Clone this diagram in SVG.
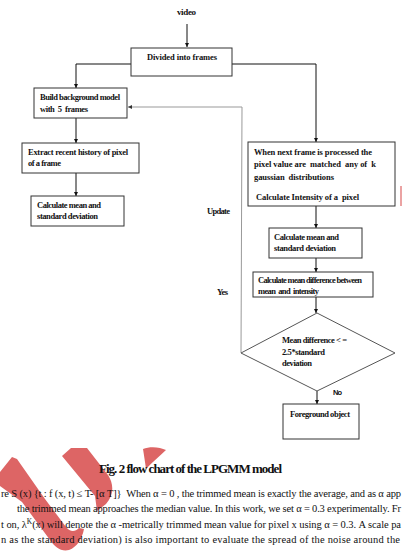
<svg xmlns="http://www.w3.org/2000/svg" width="402" height="557" viewBox="0 0 402 557">
<defs>
<marker id="ah" viewBox="0 0 8 8" refX="8" refY="4" markerWidth="4" markerHeight="4" orient="auto" markerUnits="userSpaceOnUse">
<path d="M0,0 L8,4 L0,8 Z" fill="#111"/>
</marker>
<marker id="ahg" viewBox="0 0 8 8" refX="8" refY="4" markerWidth="4" markerHeight="4" orient="auto" markerUnits="userSpaceOnUse">
<path d="M0,0 L8,4 L0,8 Z" fill="#333"/>
</marker>
<style>
.box{fill:#fff;stroke:#333;stroke-width:1}
.t{font-family:"Liberation Serif","Times New Roman",serif;font-weight:bold;font-size:8.5px;fill:#111}
.c{fill:none;stroke:#111;stroke-width:1}
.g{fill:none;stroke:#999;stroke-width:1}
.p{font-family:"Liberation Serif","Times New Roman",serif;font-size:10.5px;fill:#111}
.wm{fill:#dd6565}
</style>
</defs>
<rect width="402" height="557" fill="#fff"/>

<g id="watermark">
<path class="wm" d="M0,472 L12,457 L17,459 L45,499 L66,527 C70,532 75,532 79,528 L84,529 C82,539 77,547 69,550 C61,552 55,547 50,540 L22,502 L0,486 Z"/>
<path class="wm" d="M71,448 L87,448 L108,475 C114,484 114,495 106,504 L97,511 L95,496 L62,456 Z"/>
<path class="wm" d="M143,449 C150,446 160,447 166,450 C160,456 152,462 146,469 C145,462 144,455 143,449 Z"/>
<path class="wm" opacity="0.6" d="M400,186 L402,186 L402,206 L400,206 Z"/>
</g>

<g id="connectors">
<line class="c" x1="187" y1="24" x2="187" y2="47" marker-end="url(#ah)"/>
<polyline class="c" points="131,64 76,64 76,88" marker-end="url(#ah)"/>
<polyline class="c" points="232,64 316,64 316,142" marker-end="url(#ah)"/>
<line class="c" x1="76" y1="118" x2="76" y2="143" marker-end="url(#ah)"/>
<line class="c" x1="76" y1="173" x2="76" y2="196" marker-end="url(#ah)"/>
<line class="c" x1="316" y1="206" x2="316" y2="228" marker-end="url(#ah)"/>
<line class="c" x1="316" y1="258" x2="316" y2="272" marker-end="url(#ah)"/>
<line class="c" x1="316" y1="297" x2="316" y2="313" marker-end="url(#ah)"/>
<line class="c" x1="317" y1="391" x2="317" y2="404" marker-end="url(#ah)"/>
<polyline class="g" points="241,353 242,107 128,107" marker-end="url(#ahg)"/>
<text class="t" x="207" y="214" textLength="23">Update</text>
<text class="t" x="217" y="295" textLength="11">Yes</text>
<text x="333" y="395" textLength="9" style="font-family:'Liberation Sans',Arial,sans-serif;font-weight:bold;font-size:7.5px;fill:#111">No</text>
</g>

<g id="video">
<text class="t" x="177" y="15" textLength="19" style="font-size:9px">video</text>
</g>

<g id="divided">
<rect class="box" x="131" y="48" width="101" height="28"/>
<text class="t" x="147" y="60" textLength="70">Divided into frames</text>
</g>

<g id="build">
<rect class="box" x="34" y="88" width="93" height="30"/>
<text class="t" x="40" y="100" textLength="80">Build background model</text>
<text class="t" x="40" y="112" textLength="48" xml:space="preserve">with  5  frames</text>
</g>

<g id="extract">
<rect class="box" x="22" y="143" width="117" height="30"/>
<text class="t" x="28" y="155" textLength="100">Extract recent history of pixel</text>
<text class="t" x="28" y="166" textLength="33">of a frame</text>
</g>

<g id="calcLeft">
<rect class="box" x="31" y="196" width="93" height="30"/>
<text class="t" x="37" y="208" textLength="64">Calculate mean and</text>
<text class="t" x="37" y="219" textLength="61">standard deviation</text>
</g>

<g id="nextFrame">
<rect class="box" x="248" y="142" width="147" height="64"/>
<text class="t" x="254" y="155" textLength="118">When next frame is processed the</text>
<text class="t" x="254" y="167" textLength="122" xml:space="preserve">pixel value are  matched  any of  k</text>
<text class="t" x="254" y="180" textLength="80" xml:space="preserve">gaussian  distributions</text>
<text class="t" x="256" y="200" textLength="103" xml:space="preserve">Calculate Intensity of a  pixel</text>
</g>

<g id="calcRight">
<rect class="box" x="269" y="228" width="93" height="30"/>
<text class="t" x="274" y="240" textLength="65">Calculate mean and</text>
<text class="t" x="274" y="251" textLength="62">standard deviation</text>
</g>

<g id="meanDiff">
<rect class="box" x="253" y="272" width="120" height="25"/>
<text class="t" x="258" y="283" textLength="104">Calculate mean difference between</text>
<text class="t" x="258" y="294" textLength="61" xml:space="preserve">mean  and  intensity</text>
</g>

<g id="decision">
<polygon class="box" points="317,313 395,353 317,391 241,353" style="stroke:#555"/>
<text class="t" x="282" y="343" textLength="65">Mean difference &lt; =</text>
<text class="t" x="282" y="355" textLength="43">2.5*standard</text>
<text class="t" x="282" y="366" textLength="30">deviation</text>
</g>

<g id="foreground">
<rect class="box" x="283" y="404" width="76" height="35"/>
<text class="t" x="290" y="417" textLength="60">Foreground object</text>
</g>

<g id="caption">
<text x="99" y="473" textLength="183" style="font-family:'Liberation Serif','Times New Roman',serif;font-weight:bold;font-size:13px;fill:#111">Fig. 2 flow chart of the LPGMM model</text>
</g>

<g id="paragraph">
<text class="p" x="1" y="497" textLength="400" xml:space="preserve">re S (x) {t : f (x, t) ≤ T- [α T]}  When α = 0 , the trimmed mean is exactly the average, and as α app</text>
<text class="p" x="17" y="512" textLength="384">the trimmed mean approaches the median value. In this work, we set α = 0.3 experimentally. Fr</text>
<text class="p" x="1" y="528" textLength="400">t on, λ<tspan dy="-4" font-size="7.5">K</tspan><tspan dy="4">(x) will denote the α -metrically trimmed mean value for pixel x using α = 0.3. A scale pa</tspan></text>
<text class="p" x="1" y="543" textLength="399">n as the standard deviation) is also important to evaluate the spread of the noise around the</text>
</g>
</svg>
